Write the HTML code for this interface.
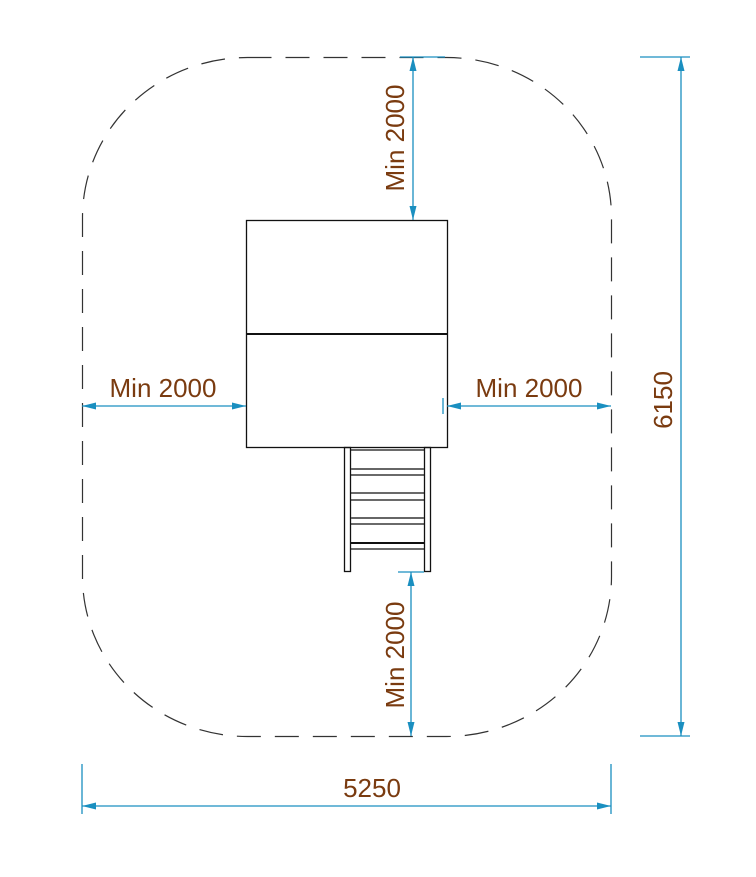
<!DOCTYPE html>
<html><head><style>body{margin:0;background:#fff}</style></head><body>
<svg width="756" height="872" viewBox="0 0 756 872" xmlns="http://www.w3.org/2000/svg">
<defs>
<marker id="a" viewBox="0 0 12 6" refX="12" refY="3" markerWidth="14" markerHeight="7" markerUnits="userSpaceOnUse" orient="auto-start-reverse"><path d="M12,3 L0,0 L0,6 Z" fill="#1a8fc0"/></marker>
</defs>
<rect x="82.5" y="57.5" width="529" height="679" rx="165" ry="160" fill="none" stroke="#333" stroke-width="1.2" stroke-dasharray="24,14"/>
<g stroke="#111" fill="none" stroke-width="1.3">
<rect x="246.5" y="220.5" width="201" height="227"/>
<line x1="246" y1="334" x2="448" y2="334" stroke-width="2"/>
<rect x="344.5" y="447.5" width="6" height="124"/>
<rect x="424.5" y="447.5" width="6" height="124"/>
<line x1="351" y1="450" x2="424" y2="450"/>
<line x1="351" y1="469" x2="424" y2="469" stroke="#666" stroke-width="2"/>
<line x1="351" y1="475" x2="424" y2="475"/>
<line x1="351" y1="493" x2="424" y2="493"/>
<line x1="351" y1="500" x2="424" y2="500"/>
<line x1="351" y1="518" x2="424" y2="518" stroke="#666" stroke-width="2"/>
<line x1="351" y1="524" x2="424" y2="524"/>
<line x1="351" y1="543" x2="424" y2="543" stroke-width="2"/>
<line x1="351" y1="549" x2="424" y2="549"/>
</g>
<g stroke="#1a8fc0" stroke-width="1.3" fill="none">
<line x1="400" y1="57" x2="445" y2="57"/>
<line x1="413" y1="57" x2="413" y2="220" marker-start="url(#a)" marker-end="url(#a)"/>
<line x1="398" y1="572" x2="424" y2="572"/>
<line x1="411" y1="572" x2="411" y2="736" marker-start="url(#a)" marker-end="url(#a)"/>
<line x1="82" y1="406" x2="246" y2="406" marker-start="url(#a)" marker-end="url(#a)"/>
<line x1="447" y1="406" x2="611" y2="406" marker-start="url(#a)" marker-end="url(#a)"/>
<line x1="443" y1="398" x2="443" y2="414"/>
<line x1="640" y1="57" x2="690" y2="57"/>
<line x1="640" y1="736" x2="690" y2="736"/>
<line x1="681" y1="57" x2="681" y2="736" marker-start="url(#a)" marker-end="url(#a)"/>
<line x1="82" y1="764" x2="82" y2="814"/>
<line x1="611" y1="764" x2="611" y2="814"/>
<line x1="82" y1="806" x2="611" y2="806" marker-start="url(#a)" marker-end="url(#a)"/>
</g>
<g fill="#7a3b10" font-family="Liberation Sans, sans-serif" font-size="26" text-anchor="middle">
<text x="163" y="397">Min 2000</text>
<text x="529" y="397">Min 2000</text>
<text x="372" y="797">5250</text>
<text transform="translate(404,138) rotate(-90)">Min 2000</text>
<text transform="translate(404,655) rotate(-90)">Min 2000</text>
<text transform="translate(672,400) rotate(-90)">6150</text>
</g>
</svg>
</body></html>
